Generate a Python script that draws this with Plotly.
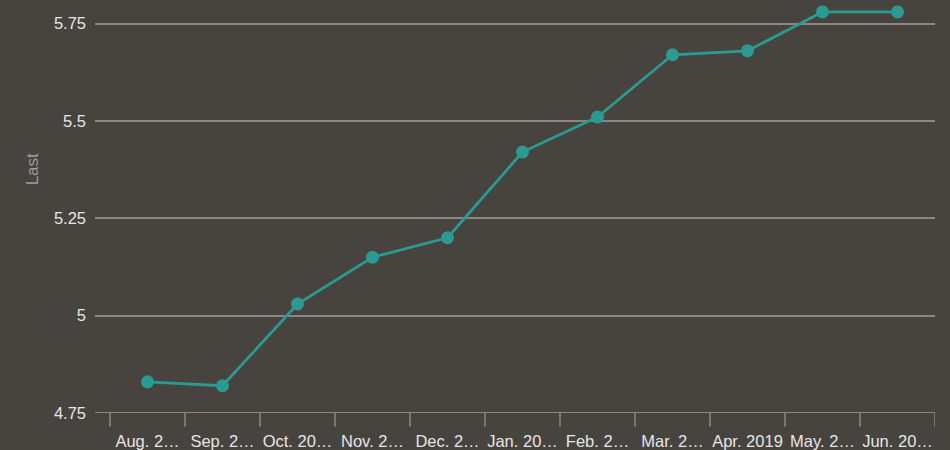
import plotly.graph_objects as go

months = ["Aug. 2…", "Sep. 2…", "Oct. 20…", "Nov. 2…", "Dec. 2…", "Jan. 20…",
          "Feb. 2…", "Mar. 2…", "Apr. 2019", "May. 2…", "Jun. 20…"]
last_values = [4.83, 4.82, 5.03, 5.15, 5.20, 5.42, 5.51, 5.67, 5.68, 5.78, 5.78]
y_ticks = [4.75, 5, 5.25, 5.5, 5.75]
y_tick_text = ["4.75", "5", "5.25", "5.5", "5.75"]

bg = "#47433e"
axis_grey = "#8a8784"
teal = "#2a9a92"

fig = go.Figure()
fig.add_trace(go.Scatter(
    x=list(range(len(months))), y=last_values, mode="lines+markers",
    line=dict(color=teal, width=2.8),
    marker=dict(color=teal, size=13),
    showlegend=False, cliponaxis=False, hoverinfo="skip",
))
fig.update_layout(
    width=950, height=450,
    paper_bgcolor=bg, plot_bgcolor=bg,
    margin=dict(l=95, r=15, t=0, b=29),
    font=dict(family="Liberation Sans, Arial, sans-serif", color="#e6e6e6", size=16.5),
    xaxis=dict(
        tickmode="array", tickvals=list(range(len(months))), ticktext=months,
        range=[-0.7, 10.5], showgrid=False, zeroline=False,
        showline=False, ticks="", ticklabelstandoff=16,
        tickfont=dict(size=16.5, color="#e6e6e6"),
    ),
    yaxis=dict(
        range=[4.75, 5.8106], tickvals=y_ticks, ticktext=y_tick_text,
        showgrid=True, gridcolor=axis_grey, gridwidth=1.5, zeroline=False,
        showline=False, ticks="", ticklabelstandoff=8,
        tickfont=dict(size=16.5, color="#e6e6e6"),
    ),
    annotations=[dict(
        text="Last", xref="paper", yref="paper", x=-0.075, y=0.59,
        textangle=-90, showarrow=False, xanchor="center", yanchor="middle",
        font=dict(size=17, color="#9e9a96"),
    )],
)
# bottom axis line and category boundary ticks
fig.add_shape(type="line", xref="paper", yref="y", x0=0, x1=1, y0=4.75, y1=4.75,
              line=dict(color=axis_grey, width=2), layer="below")
for i in range(len(months) + 1):
    fig.add_shape(type="line", xref="x", yref="paper", x0=i - 0.5, x1=i - 0.5,
                  y0=0, y1=-0.033, line=dict(color=axis_grey, width=1.5))
fig.write_html(
    "out.html",
    config={"displayModeBar": False},
    post_script="document.body.style.margin='0';document.body.style.background='#47433e';"
                "document.body.style.overflow='hidden';",
)
